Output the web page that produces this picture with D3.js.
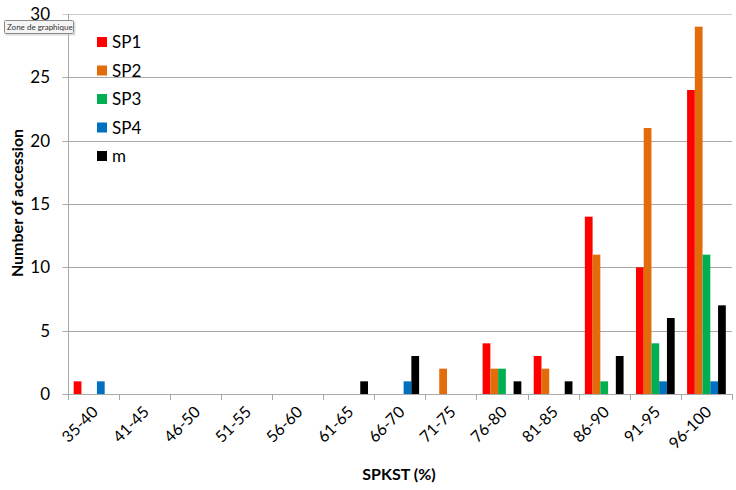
<!DOCTYPE html>
<html>
<head>
<meta charset="utf-8">
<script src="https://cdn.jsdelivr.net/npm/d3@7"></script>
<style>
  body { margin: 0; background: #fff; }
  svg { display: block; font-family: Lato, "Open Sans", sans-serif; }
</style>
</head>
<body>
<svg id="chart" width="736" height="490"></svg>
<script>
// categories (SPKST classes) and series counts
var categories = ["35-40", "41-45", "46-50", "51-55", "56-60", "61-65", "66-70", "71-75", "76-80", "81-85", "86-90", "91-95", "96-100"];
var seriesNames = ["SP1", "SP2", "SP3", "SP4", "m"];
var seriesColors = ["#ff0000", "#e36c0a", "#00b050", "#0070c0", "#000000"];
var sp1 = [1, 0, 0, 0, 0, 0, 0, 0, 4, 3, 14, 10, 24];
var sp2 = [0, 0, 0, 0, 0, 0, 0, 2, 2, 2, 11, 21, 29];
var sp3 = [0, 0, 0, 0, 0, 0, 0, 0, 2, 0, 1, 4, 11];
var sp4 = [1, 0, 0, 0, 0, 0, 1, 0, 0, 0, 0, 1, 1];
var mVals = [0, 0, 0, 0, 0, 1, 3, 0, 1, 1, 3, 6, 7];
var yTicks = [0, 5, 10, 15, 20, 25, 30];

var series = [sp1, sp2, sp3, sp4, mVals];

var svg = d3.select("#chart");
var plotLeft = 67.5, plotRight = 732, plotTop = 14, plotBottom = 394;

var x = d3.scaleBand().domain(categories).range([plotLeft, plotRight]).paddingInner(0).paddingOuter(0);
var xs = d3.scaleBand().domain(seriesNames).range([0, x.bandwidth()]).paddingInner(0).paddingOuter(0.8);
var y = d3.scaleLinear().domain([0, 30]).range([plotBottom, plotTop]);

// gridlines
svg.append("g")
    .selectAll("line")
    .data(yTicks)
    .join("line")
    .attr("x1", plotLeft - 5)
    .attr("x2", plotRight)
    .attr("y1", d => Math.round(y(d)) + 0.5)
    .attr("y2", d => Math.round(y(d)) + 0.5)
    .attr("stroke", d => d === 30 ? "#cccccc" : "#a8a8a8")
    .attr("stroke-width", 1);

// y tick labels
svg.append("g")
    .selectAll("text")
    .data(yTicks)
    .join("text")
    .attr("x", 50)
    .attr("y", d => y(d) + 6)
    .attr("text-anchor", "end")
    .attr("font-size", 17)
    .attr("fill", "#000")
    .text(d => d);

// y axis line
svg.append("line")
    .attr("x1", Math.round(plotLeft) + 0.5).attr("x2", Math.round(plotLeft) + 0.5)
    .attr("y1", plotTop).attr("y2", plotBottom + 6)
    .attr("stroke", "#a8a8a8");

// x ticks at category boundaries
var bounds = categories.map(c => x(c)).concat([plotRight]);
svg.append("g")
    .selectAll("line")
    .data(bounds.slice(1))
    .join("line")
    .attr("x1", d => Math.round(d) + 0.5)
    .attr("x2", d => Math.round(d) + 0.5)
    .attr("y1", plotBottom)
    .attr("y2", plotBottom + 6)
    .attr("stroke", "#a8a8a8");

// bars
series.forEach(function(vals, i) {
    svg.append("g")
        .attr("fill", seriesColors[i])
        .selectAll("rect")
        .data(vals.map((v, j) => ({cat: categories[j], v: v})).filter(d => d.v > 0))
        .join("rect")
        .attr("x", d => x(d.cat) + xs(seriesNames[i]))
        .attr("width", xs.bandwidth())
        .attr("y", d => y(d.v))
        .attr("height", d => y(0) - y(d.v));
});

// x tick labels rotated
svg.append("g")
    .selectAll("text")
    .data(categories)
    .join("text")
    .attr("transform", d => "translate(" + (x(d) + x.bandwidth() / 2 + 6) + "," + (plotBottom + 19) + ") rotate(-45)")
    .attr("text-anchor", "end")
    .attr("font-size", 16)
    .attr("fill", "#000")
    .text(d => d);

// axis titles
svg.append("text")
    .attr("x", 399)
    .attr("y", 480)
    .attr("text-anchor", "middle")
    .attr("font-size", 16)
    .attr("font-weight", "bold")
    .text("SPKST (%)");

svg.append("text")
    .attr("transform", "translate(23,203) rotate(-90)")
    .attr("text-anchor", "middle")
    .attr("font-size", 16)
    .attr("font-weight", "bold")
    .text("Number of accession");

// legend
var legend = svg.append("g")
    .selectAll("g")
    .data(seriesNames)
    .join("g")
    .attr("transform", (d, i) => "translate(97," + (42 + i * 28.5) + ")");
legend.append("rect")
    .attr("x", 0).attr("y", -5)
    .attr("width", 10).attr("height", 10)
    .attr("fill", (d, i) => seriesColors[i]);
legend.append("text")
    .attr("x", 15).attr("y", 6)
    .attr("font-size", 17)
    .text(d => d);

// tooltip box from the screenshot
var tip = svg.append("g").attr("transform", "translate(4,20)");
tip.append("rect")
    .attr("x", 1.5).attr("y", 1.5).attr("width", 70).attr("height", 14)
    .attr("fill", "#c8c8c8").attr("opacity", 0.6);
tip.append("rect")
    .attr("x", 0.5).attr("y", 0.5).attr("width", 69).attr("height", 13)
    .attr("fill", "#f4f4f4").attr("stroke", "#8a8a8a").attr("rx", 1);
tip.append("text")
    .attr("x", 3).attr("y", 10)
    .attr("font-size", 8)
    .attr("fill", "#333")
    .text("Zone de graphique");
</script>
</body>
</html>
